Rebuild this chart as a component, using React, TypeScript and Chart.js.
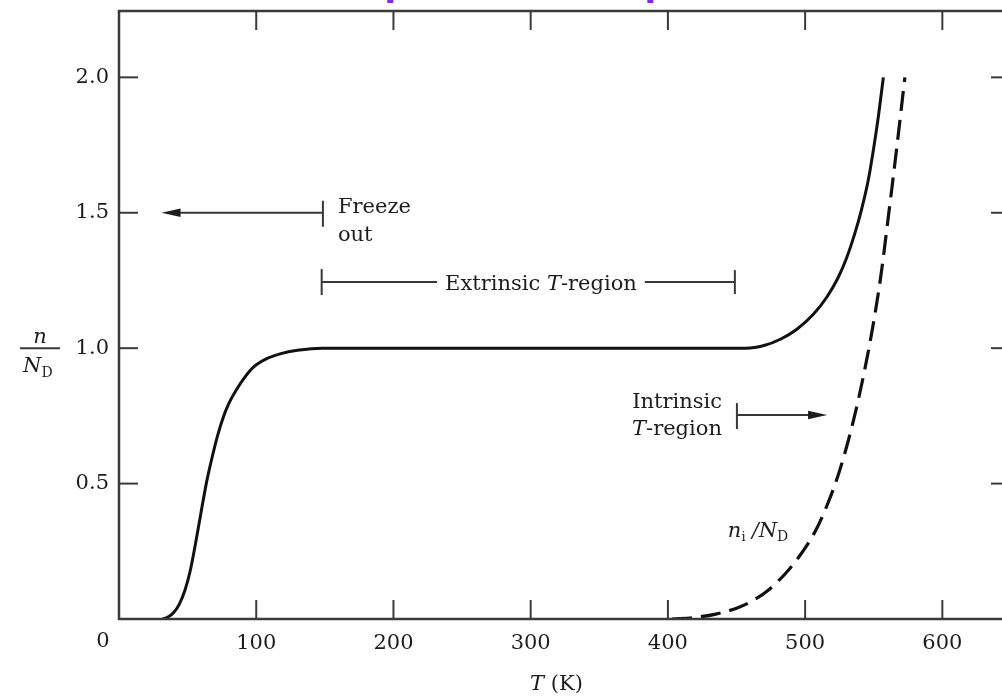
import React, { useEffect, useRef } from "react";
import { Chart, registerables } from "chart.js";

Chart.register(...registerables);

// n / N_D (solid curve)
const solidT = [32, 36, 40, 44, 48, 52, 56, 60, 64, 68, 72, 76, 80, 86, 92, 98, 108, 118, 130, 148, 200, 300, 400, 457, 470, 482, 494, 506, 516, 524, 530, 536, 541, 546, 550, 553.5, 557];
const solidN = [0, 0.008, 0.025, 0.055, 0.105, 0.18, 0.285, 0.4, 0.51, 0.6, 0.68, 0.745, 0.795, 0.85, 0.895, 0.93, 0.962, 0.98, 0.992, 1.0, 1.0, 1.0, 1.0, 1.0, 1.01, 1.033, 1.07, 1.125, 1.19, 1.26, 1.33, 1.42, 1.51, 1.62, 1.74, 1.86, 2.0];

// n_i / N_D (dashed curve)
const intrinsicT = [403, 420, 435, 450, 462, 474, 486, 497, 507, 516, 524, 531, 537, 543, 549, 555, 561, 567, 572.7];
const intrinsicN = [0, 0.006, 0.018, 0.04, 0.068, 0.11, 0.17, 0.24, 0.32, 0.42, 0.53, 0.65, 0.77, 0.91, 1.07, 1.26, 1.5, 1.75, 2.0];

const xTickValues = [0, 100, 200, 300, 400, 500, 600];
const yTickValues = [0.5, 1.0, 1.5, 2.0];
const xRange = [0, 649.3];
const yRange = [0, 2.245];

// annotation anchors (data units)
const freezeArrow = { y: 1.5, from: 148.6, to: 31 };
const extrinsicSpan = { y: 1.244, from: 147.7, to: 448.8, labelX: 307.5 };
const intrinsicArrow = { y: 0.753, from: 450.3, to: 516 };
const niLabelAt = { x: 443.7, y: 0.303 };

const FONT = '"DejaVu Serif", "Liberation Serif", serif';
const INK = "#1c1c1c";
const FRAME = "#3a3a3a";
const FS = 21;

type Seg = { t: string; italic?: boolean; size?: number; dy?: number };

function drawSegs(ctx: CanvasRenderingContext2D, segs: Seg[], x: number, y: number, align: "left" | "center" | "right") {
  const widths = segs.map((s) => {
    ctx.font = `${s.italic ? "italic " : ""}${s.size ?? FS}px ${FONT}`;
    return ctx.measureText(s.t).width;
  });
  const total = widths.reduce((a, b) => a + b, 0);
  let cx = align === "left" ? x : align === "center" ? x - total / 2 : x - total;
  ctx.textAlign = "left";
  ctx.textBaseline = "alphabetic";
  segs.forEach((s, i) => {
    ctx.font = `${s.italic ? "italic " : ""}${s.size ?? FS}px ${FONT}`;
    ctx.fillText(s.t, cx, y + (s.dy ?? 0));
    cx += widths[i];
  });
  return total;
}

function arrowHead(ctx: CanvasRenderingContext2D, tipX: number, y: number, dir: number) {
  const len = 19;
  const hw = 4.2;
  ctx.beginPath();
  ctx.moveTo(tipX, y);
  ctx.lineTo(tipX - dir * len, y - hw);
  ctx.lineTo(tipX - dir * len, y + hw);
  ctx.closePath();
  ctx.fill();
}

export default function App() {
  const ref = useRef<HTMLCanvasElement>(null);

  useEffect(() => {
    const canvas = ref.current;
    if (!canvas) return;

    const framePlugin = {
      id: "framePlugin",
      afterDatasetsDraw(chart: any) {
        const { ctx, chartArea: a, scales } = chart;
        const xs = scales.x;
        const ys = scales.y;
        const line = (x1: number, y1: number, x2: number, y2: number) => {
          ctx.beginPath();
          ctx.moveTo(x1, y1);
          ctx.lineTo(x2, y2);
          ctx.stroke();
        };
        ctx.save();
        // frame
        ctx.strokeStyle = FRAME;
        ctx.lineWidth = 2.5;
        ctx.beginPath();
        ctx.moveTo(a.left, a.top);
        ctx.lineTo(a.right, a.top);
        ctx.lineTo(a.right, a.bottom);
        ctx.lineTo(a.left, a.bottom);
        ctx.closePath();
        ctx.stroke();
        // inward ticks
        ctx.lineWidth = 2;
        const TL = 19;
        xTickValues.forEach((v) => {
          if (v === 0) return;
          const px = xs.getPixelForValue(v);
          line(px, a.bottom, px, a.bottom - TL);
          line(px, a.top, px, a.top + TL);
        });
        yTickValues.forEach((v) => {
          const py = ys.getPixelForValue(v);
          line(a.left, py, a.left + TL, py);
          line(a.right, py, a.right - TL, py);
        });

        ctx.fillStyle = INK;
        ctx.strokeStyle = "#383838";
        ctx.lineWidth = 2;

        // origin "0"
        ctx.font = `${FS}px ${FONT}`;
        ctx.textAlign = "center";
        ctx.textBaseline = "middle";
        ctx.fillText("0", xs.getPixelForValue(0) - 16, a.bottom + 23);

        // Freeze out
        {
          const y = ys.getPixelForValue(freezeArrow.y);
          const x1 = xs.getPixelForValue(freezeArrow.from);
          const x2 = xs.getPixelForValue(freezeArrow.to);
          line(x1, y, x2 + 15, y);
          arrowHead(ctx, x2, y, -1);
          line(x1, y - 12, x1, y + 14);
          drawSegs(ctx, [{ t: "Freeze" }], x1 + 15, y, "left");
          drawSegs(ctx, [{ t: "out" }], x1 + 15, y + 28, "left");
        }
        // Extrinsic T-region
        {
          const y = ys.getPixelForValue(extrinsicSpan.y);
          const x1 = xs.getPixelForValue(extrinsicSpan.from);
          const x2 = xs.getPixelForValue(extrinsicSpan.to);
          const cx = xs.getPixelForValue(extrinsicSpan.labelX);
          const w = drawSegs(ctx, [{ t: "Extrinsic " }, { t: "T", italic: true }, { t: "-region" }], cx, y + 8, "center");
          line(x1, y, cx - w / 2 - 8, y);
          line(cx + w / 2 + 8, y, x2, y);
          line(x1, y - 13, x1, y + 13);
          line(x2, y - 12, x2, y + 12);
        }
        // Intrinsic T-region
        {
          const y = ys.getPixelForValue(intrinsicArrow.y);
          const x1 = xs.getPixelForValue(intrinsicArrow.from);
          const x2 = xs.getPixelForValue(intrinsicArrow.to);
          line(x1, y - 12, x1, y + 14);
          line(x1, y, x2 - 15, y);
          arrowHead(ctx, x2, y, 1);
          drawSegs(ctx, [{ t: "Intrinsic" }], x1 - 15, y - 7, "right");
          drawSegs(ctx, [{ t: "T", italic: true }, { t: "-region" }], x1 - 15, y + 20, "right");
        }
        // n_i / N_D label
        {
          const x = xs.getPixelForValue(niLabelAt.x);
          const y = ys.getPixelForValue(niLabelAt.y);
          drawSegs(
            ctx,
            [
              { t: "n", italic: true },
              { t: "i", size: 13, dy: 4 },
              { t: " /", italic: true, size: 20 },
              { t: "N", italic: true },
              { t: "D", size: 14, dy: 4 },
            ],
            x,
            y,
            "left"
          );
        }
        // y-axis label  n / N_D
        {
          const cx = a.left - 79;
          const y = ys.getPixelForValue(1.0);
          ctx.lineWidth = 2;
          line(cx - 20, y, cx + 20, y);
          ctx.font = `italic ${FS}px ${FONT}`;
          ctx.textAlign = "center";
          ctx.textBaseline = "alphabetic";
          ctx.fillText("n", cx, y - 5);
          drawSegs(ctx, [{ t: "N", italic: true }, { t: "D", size: 14, dy: 5 }], cx - 17, y + 24, "left");
        }
        // x-axis title  T (K)
        {
          const cx = (a.left + a.right) / 2 - 8;
          drawSegs(ctx, [{ t: "T", italic: true }, { t: " (K)" }], cx, a.bottom + 71, "center");
        }
        // cut-off heading fragments at the very top
        ctx.fillStyle = "#7a2fd6";
        ctx.fillRect(xs.getPixelForValue(195.5), 0, 6, 3);
        ctx.fillRect(xs.getPixelForValue(385), 0, 6, 3);
        ctx.restore();
      },
    };

    const chart = new Chart(canvas, {
      type: "line",
      data: {
        datasets: [
          {
            label: "n/N_D",
            data: solidT.map((x, i) => ({ x, y: solidN[i] })),
            borderColor: "#111",
            borderWidth: 3,
            pointRadius: 0,
            cubicInterpolationMode: "monotone",
            fill: false,
          },
          {
            label: "n_i/N_D",
            data: intrinsicT.map((x, i) => ({ x, y: intrinsicN[i] })),
            borderColor: "#111",
            borderWidth: 3.2,
            borderDash: [20, 9],
            pointRadius: 0,
            cubicInterpolationMode: "monotone",
            fill: false,
          },
        ],
      },
      options: {
        animation: false,
        responsive: false,
        layout: { padding: { top: 11, right: 6, left: 0, bottom: 0 } },
        plugins: { legend: { display: false }, tooltip: { enabled: false } },
        scales: {
          x: {
            type: "linear",
            min: xRange[0],
            max: xRange[1],
            grid: { display: false, drawTicks: false },
            border: { display: false },
            afterBuildTicks: (s: any) => {
              s.ticks = xTickValues.map((v) => ({ value: v }));
            },
            afterFit: (s: any) => {
              s.height = 78;
              s.paddingLeft = 0;
              s.paddingRight = 0;
            },
            ticks: {
              padding: 12,
              autoSkip: false,
              maxRotation: 0,
              color: INK,
              font: { family: FONT, size: FS },
              callback: (v: any) => (Number(v) === 0 ? "" : String(v)),
            },
          },
          y: {
            type: "linear",
            min: yRange[0],
            max: yRange[1],
            grid: { display: false, drawTicks: false },
            border: { display: false },
            afterBuildTicks: (s: any) => {
              s.ticks = yTickValues.map((v) => ({ value: v }));
            },
            afterFit: (s: any) => {
              s.width = 119;
              s.paddingTop = 0;
              s.paddingBottom = 0;
            },
            ticks: {
              padding: 10,
              color: INK,
              font: { family: FONT, size: FS },
              callback: (v: any) => Number(v).toFixed(1),
            },
          },
        },
      },
      plugins: [framePlugin],
    } as any);

    return () => chart.destroy();
  }, []);

  return (
    <div style={{ position: "fixed", left: 0, top: 0, width: 1002, height: 697, overflow: "hidden", background: "#fff" }}>
      <canvas ref={ref} width={1016} height={697} style={{ display: "block", width: 1016, height: 697 }} />
    </div>
  );
}
